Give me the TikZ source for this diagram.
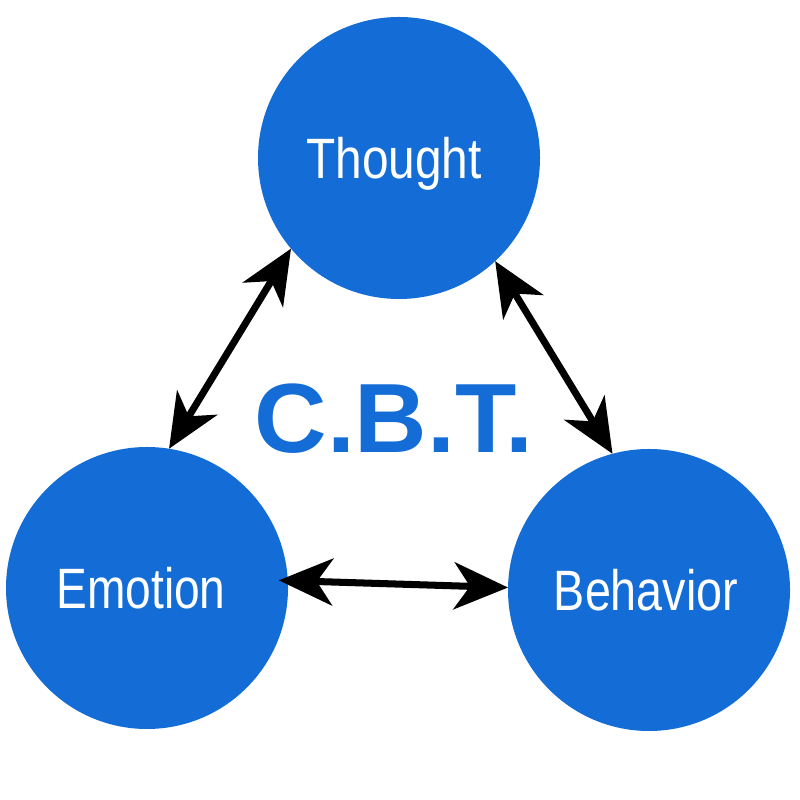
\documentclass[tikz,border=0pt]{standalone}
\usepackage{fontspec}
\setmainfont{Liberation Sans}
\usetikzlibrary{arrows.meta}
\definecolor{cbtblue}{HTML}{146CD6}

\begin{document}
\begin{tikzpicture}[
  every node/.style={font=\small},
  mindnode/.style={circle, fill=cbtblue, minimum size=2.82cm, inner sep=0pt, outer sep=0pt, text=white, font=\fontsize{16.2}{18}\selectfont, text height=11.7pt, text depth=0pt},
  linkarrow/.style={{Stealth[length=5.4mm, width=4.7mm, inset=1.6mm]}-{Stealth[length=5.4mm, width=4.7mm, inset=1.6mm]}, line width=2pt, black},
]
\useasboundingbox (0,0) rectangle (8,8);

% The three parts of the cycle
\node[mindnode] (thought) at (3.99, 6.42) {\scalebox{0.84}[1]{Thought}\hspace*{1mm}};
\node[mindnode] (emotion) at (1.47, 2.12) {\scalebox{0.81}[1]{Emotion}\hspace*{1.2mm}};
\node[mindnode] (behavior) at (6.49, 2.10) {\scalebox{0.82}[1]{Behavior}\hspace*{0.6mm}};

% Centre title
\node[text=cbtblue, font=\fontsize{28}{30}\selectfont\bfseries, text height=20pt, text depth=0pt, inner sep=0pt] (cbt) at (3.94, 3.83) {\scalebox{1.02}[1]{C.B.T.}};

% Links
\draw[linkarrow] (thought.220) -- (emotion.81);
\draw[linkarrow] (thought.313) -- (behavior.105);
\draw[linkarrow, shorten <=-0.9mm] (emotion.3) -- (behavior.179);

\end{tikzpicture}
\end{document}
